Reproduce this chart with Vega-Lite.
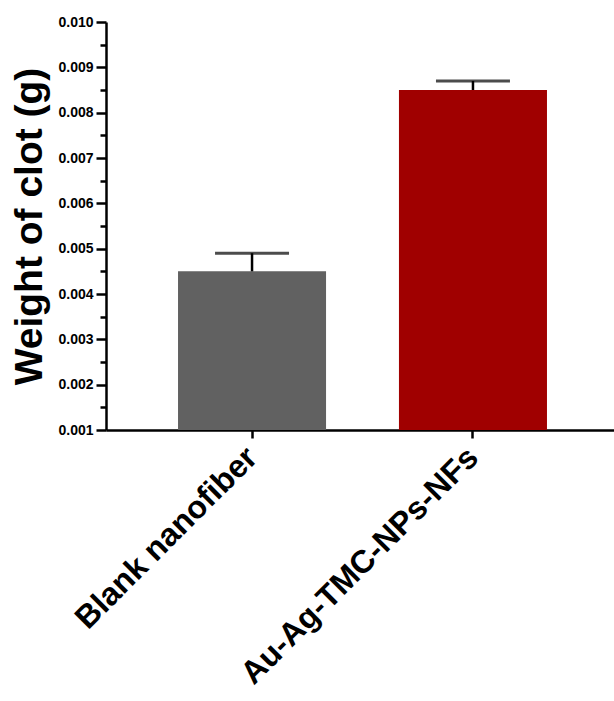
{
  "$schema": "https://vega.github.io/schema/vega-lite/v6.json",
  "autosize": "none",
  "width": 513,
  "height": 408,
  "padding": {"left": 106, "top": 22, "right": 0, "bottom": 271},
  "background": "white",
  "config": {
    "view": {"stroke": null},
    "font": "Liberation Sans",
    "axis": {"domainColor": "black", "tickColor": "black", "labelColor": "black", "titleColor": "black", "grid": false, "labelFont": "Liberation Sans", "titleFont": "Liberation Sans"}
  },
  "data": {
    "values": [
      {"group": "Blank nanofiber", "mean": 0.0045, "upper": 0.0049},
      {"group": "Au-Ag-TMC-NPs-NFs", "mean": 0.0085, "upper": 0.0087}
    ]
  },
  "encoding": {
    "x": {
      "field": "group",
      "type": "nominal",
      "sort": null,
      "scale": {"paddingInner": 0.33, "paddingOuter": 0.326},
      "axis": {
        "title": null,
        "labelAngle": -45,
        "labelAlign": "right",
        "labelBaseline": "middle",
        "labelFontSize": 32,
        "labelFontWeight": "bold",
        "labelPadding": 14,
        "labelLimit": 0,
        "domainWidth": 2.5,
        "tickWidth": 2.5,
        "tickSize": 8
      }
    }
  },
  "layer": [
    {
      "mark": {"type": "bar"},
      "encoding": {
        "y": {
          "field": "mean",
          "type": "quantitative",
          "scale": {"domain": [0.001, 0.01], "zero": false, "nice": false},
          "axis": {
            "title": "Weight of clot (g)",
            "titleFontSize": 39,
            "titleFontWeight": "bold",
            "titlePadding": 8,
            "tickCount": 18,
            "labelExpr": "(round(datum.value * 10000) % 10 == 0) ? format(datum.value, '.3f') : ''",
            "labelFontSize": 14,
            "labelFontWeight": "bold",
            "labelPadding": 3,
            "labelOverlap": false,
            "domainWidth": 2.5,
            "tickWidth": 2.5,
            "tickSize": {"condition": {"test": "round(datum.value * 10000) % 10 != 0", "value": 6}, "value": 10}
          }
        },
        "y2": {"datum": 0.001},
        "color": {
          "field": "group",
          "type": "nominal",
          "scale": {"domain": ["Blank nanofiber", "Au-Ag-TMC-NPs-NFs"], "range": ["#616161", "#a00000"]},
          "legend": null
        }
      }
    },
    {
      "mark": {"type": "rule", "color": "black", "strokeWidth": 2.5},
      "encoding": {
        "y": {"field": "mean", "type": "quantitative"},
        "y2": {"field": "upper"}
      }
    },
    {
      "mark": {"type": "tick", "color": "black", "thickness": 3, "size": 74},
      "encoding": {
        "y": {"field": "upper", "type": "quantitative"}
      }
    }
  ]
}
